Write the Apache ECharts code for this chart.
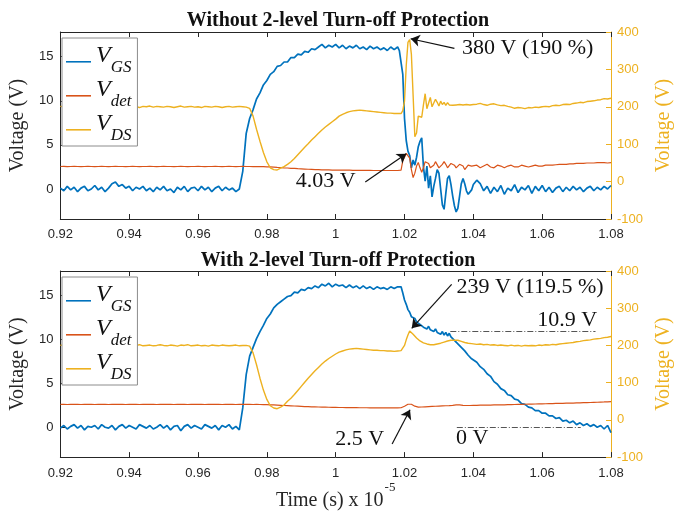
<!DOCTYPE html>
<html><head><meta charset="utf-8">
<script src="https://cdn.jsdelivr.net/npm/echarts@6/dist/echarts.min.js"></script>
<style>html,body{margin:0;padding:0;background:#fff}#c{width:685px;height:512px}</style>
</head><body><div id="c"></div>
<script>
// time axis (x 10^-5 s)
const time = [
0.920,0.921,0.922,0.923,0.924,0.925,0.926,0.927,0.928,0.929,
0.930,0.931,0.932,0.933,0.934,0.935,0.936,0.937,0.938,0.939,
0.940,0.941,0.942,0.943,0.944,0.945,0.946,0.947,0.948,0.949,
0.950,0.951,0.952,0.953,0.954,0.955,0.956,0.957,0.958,0.959,
0.960,0.961,0.962,0.963,0.964,0.965,0.966,0.967,0.968,0.969,
0.970,0.971,0.972,0.973,0.974,0.975,0.976,0.977,0.978,0.979,
0.980,0.981,0.982,0.983,0.984,0.985,0.986,0.987,0.988,0.989,
0.990,0.991,0.992,0.993,0.994,0.995,0.996,0.997,0.998,0.999,
1.000,1.001,1.002,1.003,1.004,1.005,1.006,1.007,1.008,1.009,
1.010,1.011,1.012,1.013,1.014,1.015,1.016,1.017,
1.0180,1.0185,1.0190,1.0195,1.0200,1.0205,1.0210,1.0215,1.0220,1.0225,
1.0230,1.0235,1.0240,1.0245,1.0250,1.0255,1.0260,1.0265,1.0270,1.0275,
1.0280,1.0285,1.0290,1.0295,1.0300,1.0305,1.0310,1.0315,1.0320,1.0325,
1.0330,1.0335,1.0340,1.0345,1.0350,1.0355,1.0360,1.0365,1.0370,1.0375,
1.0380,1.0385,1.0390,1.0395,1.0400,
1.041,1.042,1.043,1.044,1.045,1.046,1.047,1.048,1.049,1.050,
1.051,1.052,1.053,1.054,1.055,1.056,1.057,1.058,1.059,1.060,
1.061,1.062,1.063,1.064,1.065,1.066,1.067,1.068,1.069,1.070,
1.071,1.072,1.073,1.074,1.075,1.076,1.077,1.078,1.079,1.080
];

// ---- Without 2-level turn-off protection ----
const vgsTop = [
0.1,-0.2,0.3,-0.1,0.2,-0.3,0.1,0.3,-0.2,0.0,
0.4,-0.1,0.2,-0.3,0.1,0.6,0.8,0.3,0.5,0.1,
0.3,-0.2,0.2,0.0,0.3,-0.2,0.1,-0.3,0.2,-0.1,
0.3,-0.2,0.0,-0.4,0.2,-0.1,0.3,-0.3,0.1,0.2,
-0.2,0.3,-0.1,0.2,-0.3,0.1,0.3,-0.2,0.2,-0.1,
0.1,-0.3,0.0,2.0,6.3,8.0,9.0,10.2,10.9,11.8,
12.3,13.0,13.3,13.9,14.0,14.4,14.4,14.9,14.9,15.3,
15.2,15.6,15.5,15.9,15.8,16.1,16.4,16.0,16.3,16.1,
16.4,16.0,16.3,15.9,16.2,16.0,16.3,15.9,16.1,15.8,
16.2,15.9,16.1,15.8,16.0,15.7,16.1,15.8,
16.1,15.7,15.9,13.0,8.0,5.5,4.3,3.8,2.4,3.3,
2.7,3.6,4.8,5.4,5.8,2.5,0.9,2.6,0.1,1.5,
-0.9,0.3,1.2,2.2,1.8,0.0,-1.8,-2.3,-0.5,1.2,
1.5,0.5,-0.8,-1.9,-2.6,-2.2,-0.8,0.6,1.2,0.6,
-0.2,-0.6,-0.7,-0.1,0.5,
1.0,0.6,-0.2,0.3,-0.5,0.2,-0.3,0.4,-0.6,0.1,
-0.2,0.5,-0.4,0.2,-0.1,0.4,-0.5,0.3,-0.2,0.4,
-0.3,0.2,-0.4,0.1,0.3,-0.3,0.2,-0.2,0.3,-0.1,
0.2,-0.3,0.1,0.3,-0.2,0.2,-0.1,0.3,0.0,0.4
];
const vdetTop = [
2.55,2.56,2.54,2.55,2.56,2.55,2.54,2.55,2.56,2.55,
2.54,2.55,2.56,2.55,2.54,2.55,2.56,2.55,2.55,2.54,
2.55,2.56,2.55,2.54,2.55,2.55,2.56,2.55,2.54,2.55,
2.56,2.55,2.55,2.54,2.55,2.56,2.55,2.54,2.55,2.55,
2.56,2.55,2.54,2.55,2.55,2.56,2.55,2.54,2.55,2.56,
2.55,2.54,2.55,2.56,2.55,2.55,2.54,2.55,2.54,2.53,
2.52,2.50,2.48,2.45,2.43,2.40,2.38,2.35,2.33,2.30,
2.28,2.26,2.24,2.22,2.20,2.19,2.18,2.17,2.16,2.15,
2.15,2.14,2.14,2.13,2.13,2.12,2.12,2.12,2.11,2.11,
2.11,2.10,2.10,2.10,2.10,2.10,2.10,2.10,
2.10,2.10,2.15,3.2,3.6,4.03,3.9,3.5,2.2,1.3,
1.8,2.6,3.0,2.4,1.9,2.4,3.1,3.3,2.9,2.4,
2.2,2.7,3.1,2.9,2.4,2.3,2.8,3.1,2.8,2.4,
2.5,2.9,3.0,2.7,2.4,2.5,2.8,2.9,2.6,2.2,
2.3,2.7,2.8,2.6,2.4,
2.7,2.4,2.6,2.8,2.5,2.4,2.7,2.6,2.4,2.6,
2.7,2.5,2.5,2.7,2.6,2.5,2.6,2.7,2.6,2.6,
2.7,2.7,2.7,2.75,2.8,2.8,2.8,2.85,2.85,2.9,
2.9,2.9,2.95,2.95,2.95,3.0,3.0,3.0,2.95,3.0
];
const vdsTop = [
201,200,202,199,201,203,200,201,199,202,
200,201,198,200,202,201,199,200,202,200,
201,199,200,198,201,200,202,199,201,200,
199,201,200,198,200,202,199,200,201,199,
200,198,201,200,199,201,200,198,200,201,
199,200,201,200,199,196,175,140,108,78,
53,37,32,31,36,40,46,53,62,72,
82,92,101,111,120,129,138,146,153,160,
167,175,180,184,187,189,190,191,190,189,
188,187,186,185,184,183,183,182,
182,181,182,190,215,310,372,380,340,230,
120,130,175,180,172,205,235,195,190,225,
200,195,220,212,202,215,206,212,204,211,
205,210,204,209,205,208,206,209,205,207,
206,208,205,207,206,
207,209,206,204,207,208,205,203,204,201,
199,196,198,197,195,198,197,199,198,200,
201,200,203,204,203,206,207,206,209,210,
212,211,214,215,216,218,219,222,221,223
];

// ---- With 2-level turn-off protection ----
const vgsBot = [
-0.1,0.2,-0.2,0.1,0.3,-0.1,0.2,-0.3,0.1,0.0,
0.2,-0.2,0.3,0.0,-0.1,0.2,-0.3,0.1,0.3,-0.1,
0.2,0.0,-0.2,0.3,0.1,-0.1,0.2,-0.2,0.0,0.3,
-0.1,0.2,-0.3,0.1,0.2,-0.4,0.1,0.3,-0.1,0.2,
0.0,-0.2,0.3,0.1,-0.1,0.2,-0.3,0.2,0.0,0.3,
-0.2,0.1,-0.3,2.2,6.0,8.1,9.1,10.1,10.9,11.6,
12.4,12.9,13.6,14.0,14.3,14.6,14.9,15.0,15.4,15.3,
15.7,15.6,15.9,15.8,16.1,15.9,16.3,16.1,16.4,16.0,
16.3,16.1,16.2,15.9,16.2,15.9,16.1,15.8,16.1,15.8,
16.0,15.7,16.0,15.8,15.9,15.7,16.0,15.8,
16.0,15.8,16.0,15.3,14.5,14.0,13.4,13.1,12.6,12.6,
12.4,12.0,12.1,11.7,11.8,11.4,11.6,11.2,11.5,11.1,
11.3,10.9,11.2,10.8,11.0,10.6,10.9,10.5,10.8,10.4,
10.7,10.3,10.4,9.9,10.0,9.5,9.6,9.1,9.1,8.7,
8.7,8.2,8.2,7.8,7.7,
7.4,6.9,6.6,6.1,5.8,5.2,4.9,4.4,4.2,3.7,
3.6,3.2,3.1,2.7,2.6,2.3,2.2,1.9,1.9,1.6,
1.6,1.3,1.3,1.0,1.1,0.7,0.8,0.5,0.7,0.3,
0.5,0.2,0.4,0.1,0.3,0.0,0.2,-0.2,0.2,-0.6
];
const vdetBot = [
2.60,2.61,2.59,2.60,2.61,2.60,2.59,2.60,2.61,2.60,
2.59,2.60,2.61,2.60,2.59,2.60,2.61,2.60,2.60,2.59,
2.60,2.61,2.60,2.59,2.60,2.60,2.61,2.60,2.59,2.60,
2.61,2.60,2.60,2.59,2.60,2.61,2.60,2.59,2.60,2.60,
2.61,2.60,2.59,2.60,2.60,2.61,2.60,2.59,2.60,2.61,
2.60,2.59,2.60,2.61,2.60,2.60,2.59,2.60,2.59,2.58,
2.57,2.56,2.54,2.52,2.50,2.48,2.46,2.44,2.42,2.40,
2.38,2.36,2.35,2.33,2.32,2.31,2.30,2.29,2.28,2.27,
2.26,2.25,2.25,2.24,2.24,2.23,2.23,2.22,2.22,2.22,
2.21,2.21,2.21,2.20,2.20,2.20,2.20,2.20,
2.20,2.20,2.22,2.28,2.40,2.52,2.62,2.68,2.62,2.50,
2.40,2.33,2.30,2.30,2.31,2.32,2.33,2.34,2.35,2.36,
2.37,2.38,2.39,2.40,2.41,2.42,2.43,2.44,2.45,2.46,
2.47,2.48,2.50,2.52,2.54,2.55,2.54,2.52,2.50,2.49,
2.48,2.48,2.48,2.49,2.49,
2.50,2.51,2.52,2.52,2.53,2.54,2.55,2.55,2.56,2.57,
2.58,2.59,2.60,2.61,2.62,2.63,2.64,2.65,2.66,2.67,
2.68,2.69,2.70,2.71,2.72,2.73,2.74,2.75,2.76,2.77,
2.78,2.80,2.81,2.82,2.84,2.85,2.87,2.88,2.90,2.92
];
const vdsBot = [
200,202,199,201,200,198,201,200,202,199,
201,200,199,202,200,201,198,200,201,200,
199,201,200,202,199,200,201,199,200,202,
200,199,201,200,198,201,200,202,199,200,
201,199,200,198,201,200,199,201,200,199,
200,201,199,200,200,198,180,148,112,80,
55,38,32,30,34,40,50,58,68,79,
90,101,112,122,132,141,150,158,165,171,
177,182,185,188,190,191,192,191,190,189,
188,187,187,186,186,185,185,184,
185,184,186,188,200,215,228,239,236,230,
225,220,216,212,209,207,205,204,203,202,
203,202,203,204,205,206,207,209,210,212,
213,214,215,214,215,214,212,211,210,208,
207,206,205,205,204,
203,204,202,203,201,202,200,201,200,199,
201,199,200,198,200,199,200,199,201,200,
202,201,203,202,204,205,206,207,208,210,
211,213,214,215,217,218,219,221,222,224
];

const leftTicks = [0, 5, 10, 15];
const panelTitles = ['Without 2-level Turn-off Protection', 'With 2-level Turn-off Protection'];
const seriesNames = ['VGS', 'Vdet', 'VDS'];
const subscripts = { VGS: 'GS', Vdet: 'det', VDS: 'DS' };

const SERIF = 'Liberation Serif', SANS = 'Liberation Sans';
const AX = '#262626', INK = '#111111';
const C_GS = '#0072BD', C_DET = '#D95319', C_DS = '#EDB120';

const chart = echarts.init(document.getElementById('c'), null, { renderer: 'canvas' });

const pair = arr => time.map((t, i) => [t, arr[i]]);

const grids = [
  { left: 55, right: 74, top: 32, height: 187 },
  { left: 55, right: 74, top: 271, height: 187 }
];

const xAxes = [], yAxes = [];
[0, 1].forEach(g => {
  xAxes.push({
    type: 'value', gridIndex: g, min: 0.92, max: 1.08, interval: 0.02, position: 'bottom',
    axisLine: { show: true, onZero: false, lineStyle: { color: AX, width: 1 } },
    axisTick: { show: true, inside: true, length: 5, lineStyle: { color: AX } },
    axisLabel: { show: true, color: AX, fontFamily: SANS, fontSize: 13, margin: g === 1 ? 10 : 9,
      showMinLabel: true, showMaxLabel: true, formatter: v => String(+(+v).toFixed(2)) },
    splitLine: { show: false },
    name: g === 1 ? '{m|Time (s) x 10}{sup|-5}' : '',
    nameLocation: 'middle', nameGap: 23,
    nameTextStyle: { color: AX, rich: {
      m: { fontFamily: SERIF, fontSize: 20, color: AX, lineHeight: 20, padding: [10, 0, 0, 0], verticalAlign: 'top' },
      sup: { fontFamily: SERIF, fontSize: 13, color: AX, lineHeight: 13, padding: [0, 0, 0, 1], verticalAlign: 'top' } } }
  });
  xAxes.push({
    type: 'value', gridIndex: g, min: 0.92, max: 1.08, interval: 0.02, position: 'top',
    axisLine: { show: true, onZero: false, lineStyle: { color: AX, width: 1 } },
    axisTick: { show: true, inside: true, length: 5, lineStyle: { color: AX } },
    axisLabel: { show: false }, splitLine: { show: false }
  });
  yAxes.push({
    type: 'value', gridIndex: g, position: 'left', min: -3.4, max: 17.8,
    axisLine: { show: true, onZero: false, lineStyle: { color: AX, width: 1 } },
    axisTick: { show: true, inside: true, length: 5, customValues: leftTicks, lineStyle: { color: AX } },
    axisLabel: { show: true, customValues: leftTicks, color: AX, fontFamily: SANS, fontSize: 13, margin: 7 },
    splitLine: { show: false },
    name: 'Voltage (V)', nameLocation: 'middle', nameRotate: 90, nameGap: 20,
    nameTextStyle: { fontFamily: SERIF, fontSize: 20, color: AX }
  });
  yAxes.push({
    type: 'value', gridIndex: g, position: 'right', min: -100, max: 400, interval: 100,
    axisLine: { show: true, onZero: false, lineStyle: { color: C_DS, width: 1 } },
    axisTick: { show: true, inside: true, length: 5, lineStyle: { color: C_DS } },
    axisLabel: { show: true, color: C_DS, fontFamily: SANS, fontSize: 13, margin: 6, showMinLabel: true, showMaxLabel: true },
    splitLine: { show: false },
    name: 'Voltage (V)', nameLocation: 'middle', nameRotate: 90, nameGap: 42,
    nameTextStyle: { fontFamily: SERIF, fontSize: 20, color: C_DS }
  });
});

const annoText = (coord, text) => ({
  coord, symbol: 'circle', symbolSize: 1, itemStyle: { color: 'rgba(0,0,0,0)' },
  label: { show: true, position: 'inside', formatter: text, fontFamily: SERIF, fontSize: 22, color: INK }
});
const arrowML = pairs => ({
  silent: true, animation: false, symbol: ['none', 'arrow'], symbolSize: 9,
  label: { show: false }, lineStyle: { color: INK, width: 1.2, type: 'solid' },
  emphasis: { disabled: true },
  data: pairs.map(p => [{ coord: p[0] }, { coord: p[1] }])
});
const textMP = items => ({ silent: true, animation: false, data: items });

function line(name, arr, color, g, yIdx, w, extra) {
  return Object.assign({
    name, type: 'line', xAxisIndex: g * 2, yAxisIndex: g * 2 + yIdx,
    data: pair(arr), showSymbol: false, symbol: 'none', sampling: null,
    lineStyle: { color, width: w }, itemStyle: { color },
    emphasis: { disabled: true }, animation: false
  }, extra || {});
}

const series = [
  // top
  line('VGS', vgsTop, C_GS, 0, 0, 1.7),
  line('Vdet', vdetTop, C_DET, 0, 0, 1.2, {
    markLine: arrowML([[[1.0086, 0.8], [1.0205, 4.0]]]),
    markPoint: textMP([annoText([0.9971, 0.83], '4.03 V')])
  }),
  line('VDS', vdsTop, C_DS, 0, 1, 1.4, {
    markLine: arrowML([[[1.0345, 356], [1.0218, 382]]]),
    markPoint: textMP([annoText([1.0558, 356], '380 V (190 %)')])
  }),
  // bottom
  line('VGS', vgsBot, C_GS, 1, 0, 1.7, {
    markLine: {
      silent: true, animation: false, symbol: ['none', 'none'], label: { show: false },
      lineStyle: { color: '#555', width: 1, type: [6, 2, 1, 2] },
      emphasis: { disabled: true },
      data: [
        [{ coord: [1.0333, 10.9] }, { coord: [1.0755, 10.9] }],
        [{ coord: [1.0352, 0] }, { coord: [1.0712, 0] }]
      ]
    },
    markPoint: textMP([annoText([1.0673, 12.2], '10.9 V'), annoText([1.0397, -1.25], '0 V')])
  }),
  line('Vdet', vdetBot, C_DET, 1, 0, 1.2, {
    markLine: arrowML([[[1.0164, -1.9], [1.0216, 2.0]]]),
    markPoint: textMP([annoText([1.0070, -1.4], '2.5 V')])
  }),
  line('VDS', vdsBot, C_DS, 1, 1, 1.4, {
    markLine: arrowML([[[1.0337, 364], [1.0221, 246]]]),
    markPoint: textMP([annoText([1.0565, 356], '239 V (119.5 %)')])
  })
];

const legendTops = [38, 277];
const legends = legendTops.map(top => ({
  data: seriesNames, orient: 'vertical', left: 62, top,
  backgroundColor: '#ffffff', borderColor: '#8c8c8c', borderWidth: 1, borderRadius: 0,
  padding: [2, 6, 2, 4], itemGap: -2, itemWidth: 25, itemHeight: 32,
  icon: 'path://M0,0M0,21L25,21L25,22.6L0,22.6ZM25,32',
  itemStyle: { borderWidth: 0 }, selectedMode: false,
  formatter: n => '{v|V}{s|' + subscripts[n] + '}',
  textStyle: { rich: {
    v: { fontFamily: SERIF, fontStyle: 'italic', fontSize: 24, color: INK, lineHeight: 24, verticalAlign: 'top' },
    s: { fontFamily: SERIF, fontStyle: 'italic', fontSize: 17, color: INK, lineHeight: 17, padding: [15, 0, 0, 0], verticalAlign: 'top' }
  } }
}));

chart.setOption({
  backgroundColor: '#ffffff',
  animation: false,
  title: panelTitles.map((t, i) => ({
    text: t, left: 333, textAlign: 'center', top: i === 0 ? 6 : 246,
    textStyle: { fontFamily: SERIF, fontWeight: 'bold', fontSize: 20, color: INK }
  })),
  legend: legends,
  grid: grids,
  xAxis: xAxes,
  yAxis: yAxes,
  series
});
</script>
</body></html>
